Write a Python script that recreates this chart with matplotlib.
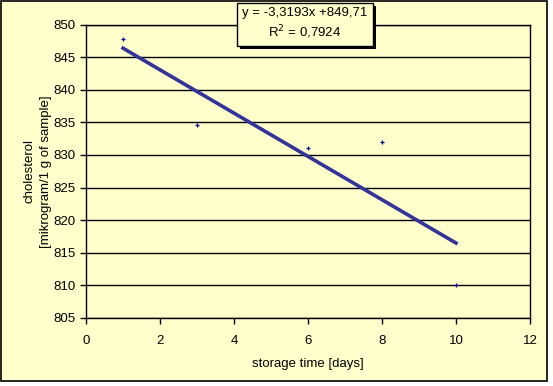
import matplotlib
matplotlib.use("Agg")
import matplotlib.pyplot as plt
import matplotlib.patheffects as pe
from matplotlib.patches import Rectangle
import numpy as np

# storage time [days] and cholesterol readings
days = [1, 3, 6, 8, 10]
cholesterol = [847.8, 834.6, 831.1, 832.0, 810.0]
equation_text = "y = -3,3193x +849,71\nR$^2$ = 0,7924"

plt.rcParams["font.family"] = ["Liberation Sans", "DejaVu Sans"]
plt.rcParams["font.size"] = 9

W, H = 553, 386
fig = plt.figure(figsize=(W / 100, H / 100), dpi=100)
fig.patch.set_facecolor("white")

bg = "#FFFFCC"
fig.patches.append(Rectangle((0.5 / W, 1 - 381 / H), 546 / W, 380.5 / H,
                             transform=fig.transFigure, facecolor=bg,
                             edgecolor="black", linewidth=1.2, zorder=-5))

ax = fig.add_axes([86 / W, 1 - 318 / H, 444 / W, 293.5 / H])
ax.set_zorder(1)
ax.set_facecolor(bg)

ax.plot(days, cholesterol, linestyle="none", marker="+", markersize=3.5,
        markeredgewidth=0.9, color="#000080", zorder=4)

# linear trend line
slope, intercept = np.polyfit(days, cholesterol, 1)
xs = np.array([min(days), max(days)])
ax.plot(xs, slope * xs + intercept, color="#333399", linewidth=2.6, zorder=3)

ax.set_xlim(0, 12)
ax.set_ylim(805, 850)
ax.set_xticks(range(0, 13, 2))
ax.set_yticks(range(805, 851, 5))
ax.yaxis.grid(True, color="black", linewidth=1)
ax.set_axisbelow(True)
for s in ax.spines.values():
    s.set_color("black")
    s.set_linewidth(1)
ax.tick_params(direction="out", length=4, width=1, colors="black", labelsize=9.5)
ax.tick_params(axis="x", pad=8)

ax.set_xlabel("storage time [days]", fontsize=9.5, labelpad=8)
ax.set_ylabel("cholesterol\n[mikrogram/1 g of sample]", fontsize=9.5,
              labelpad=1, linespacing=1.5)

t = fig.text(305 / W, 1 - 24 / H, equation_text, ha="center", va="center",
             fontsize=9.5, linespacing=1.35, zorder=5,
             bbox=dict(boxstyle="square,pad=0.4", facecolor=bg,
                       edgecolor="black", linewidth=1))
t.get_bbox_patch().set_path_effects([
    pe.SimplePatchShadow(offset=(2, -2), shadow_rgbFace="black", alpha=1),
    pe.Normal()])

fig.savefig("out.png", dpi=100)
